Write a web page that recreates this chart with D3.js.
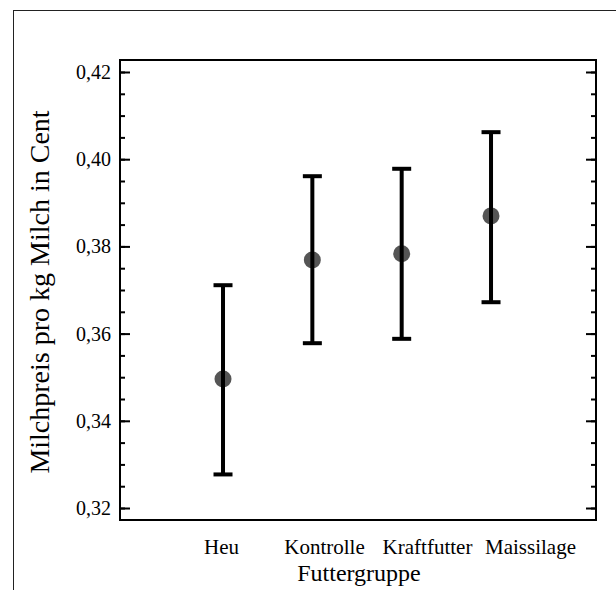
<!DOCTYPE html>
<html>
<head>
<meta charset="utf-8">
<script src="https://cdn.jsdelivr.net/npm/d3@7"></script>
<style>
  body { margin: 0; background: #fff; }
  svg { display: block; font-family: "Liberation Serif", "Times New Roman", serif; }
  svg text { font-family: "Liberation Serif", "Times New Roman", serif; }
</style>
</head>
<body>
<svg id="chart" width="616" height="590"></svg>
<script>
// Futtergruppen and their milk price (mean with lower/upper interval bounds)
const groups = ["Heu", "Kontrolle", "Kraftfutter", "Maissilage"];
const means  = [0.3496, 0.3769, 0.3783, 0.3870];
const lowers = [0.3277, 0.3578, 0.3588, 0.3672];
const uppers = [0.3711, 0.3961, 0.3978, 0.4062];
const yMajorTicks = [0.32, 0.34, 0.36, 0.38, 0.40, 0.42];
const yMinorTicks = d3.range(0.32, 0.4201, 0.005);

const svg = d3.select("#chart");
const plot = { left: 120, top: 60, right: 596, bottom: 520 };
const serif = "'Liberation Serif', 'Times New Roman', serif";

// outer frame
svg.append("rect")
  .attr("x", 13.5).attr("y", 10.5)
  .attr("width", 700).attr("height", 700)
  .attr("fill", "none").attr("stroke", "#222").attr("stroke-width", 1);

const x = d3.scaleLinear().domain([-0.153, 5.175]).range([plot.left, plot.right]);
const y = d3.scaleLinear().domain([0.31725, 0.42275]).range([plot.bottom, plot.top]);
// the category names are set along their own evenly spaced positions
const xLabel = d3.scalePoint().domain(groups).range([221, 530]);

const fmt = v => d3.format(".2f")(v).replace(".", ",");

// left/right axes with inward ticks
const leftMinor = d3.axisLeft(y).tickValues(yMinorTicks).tickSize(-5).tickFormat("");
const leftMajor = d3.axisLeft(y).tickValues(yMajorTicks).tickSize(-10).tickPadding(9).tickFormat(fmt);
const rightMinor = d3.axisRight(y).tickValues(yMinorTicks).tickSize(-5).tickFormat("");
const rightMajor = d3.axisRight(y).tickValues(yMajorTicks).tickSize(-10).tickFormat("");

function styleAxis(g) {
  g.attr("font-family", serif).attr("font-size", 20);
  g.select(".domain").remove();
  g.selectAll(".tick line").attr("stroke", "#000").attr("stroke-width", 2);
  g.selectAll(".tick text").attr("fill", "#000");
}
svg.append("g").attr("transform", `translate(${plot.left},0)`).call(leftMinor).call(styleAxis);
svg.append("g").attr("transform", `translate(${plot.left},0)`).call(leftMajor).call(styleAxis);
svg.append("g").attr("transform", `translate(${plot.right},0)`).call(rightMinor).call(styleAxis);
svg.append("g").attr("transform", `translate(${plot.right},0)`).call(rightMajor).call(styleAxis);

// bottom: category labels only
const xAxis = d3.axisBottom(xLabel).tickSize(0).tickPadding(19);
svg.append("g").attr("transform", `translate(0,${plot.bottom})`).call(xAxis).call(g => {
  g.attr("font-family", serif).attr("font-size", 21);
  g.select(".domain").remove();
  g.selectAll(".tick text").attr("fill", "#000");
});

// plot frame
svg.append("rect")
  .attr("x", plot.left).attr("y", plot.top)
  .attr("width", plot.right - plot.left).attr("height", plot.bottom - plot.top)
  .attr("fill", "none").attr("stroke", "#000").attr("stroke-width", 2);

// points with error bars
const rows = groups.map((g, i) => ({ g, pos: i + 1, mean: means[i], lo: lowers[i], hi: uppers[i] }));
const item = svg.append("g").selectAll("g").data(rows).join("g");

item.append("circle")
  .attr("cx", d => x(d.pos)).attr("cy", d => y(d.mean)).attr("r", 8.5)
  .attr("fill", "#555");
item.append("line")
  .attr("x1", d => x(d.pos)).attr("x2", d => x(d.pos))
  .attr("y1", d => y(d.hi)).attr("y2", d => y(d.lo))
  .attr("stroke", "#000").attr("stroke-width", 4);
item.selectAll("line.cap").data(d => [[d.pos, d.hi], [d.pos, d.lo]]).join("line")
  .attr("class", "cap")
  .attr("x1", d => x(d[0]) - 9.5).attr("x2", d => x(d[0]) + 9.5)
  .attr("y1", d => y(d[1])).attr("y2", d => y(d[1]))
  .attr("stroke", "#000").attr("stroke-width", 4);

// axis titles
svg.append("text")
  .attr("x", 359).attr("y", 581)
  .attr("text-anchor", "middle").style("font-size", "24px").text("Futtergruppe");
svg.append("text")
  .attr("transform", `translate(49,${(plot.top + plot.bottom) / 2 + 2}) rotate(-90)`)
  .attr("text-anchor", "middle").style("font-size", "28px")
  .text("Milchpreis pro kg Milch in Cent");
</script>
</body>
</html>
